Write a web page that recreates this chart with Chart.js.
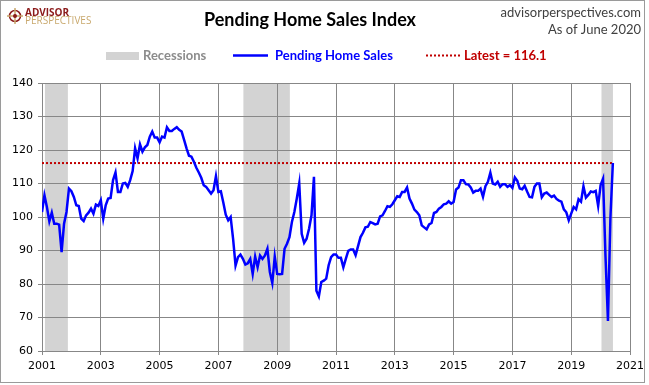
<!DOCTYPE html>
<html>
<head>
<meta charset="utf-8">
<title>Pending Home Sales Index</title>
<script src="https://cdn.jsdelivr.net/npm/chart.js@4.4.0/dist/chart.umd.min.js"></script>
<style>
  html, body { margin: 0; padding: 0; background: #fff; }
  canvas { display: block; }
</style>
</head>
<body>
<canvas id="chart" width="649" height="385"></canvas>
<script>
// monthly index values, Jan 2001 .. Jun 2020
const startYear = 2001;
const pendingHomeSales = [
  101.5, 106.5, 103, 98.7, 101.3, 98, 98, 97.7, 89.5, 98, 101.5, 108.5,          // 2001
  107.7, 106, 103.5, 103.3, 99.5, 98.8, 100.5, 101.3, 102.5, 101, 103.7, 103.3,  // 2002
  105, 99.5, 103.5, 105.5, 105.7, 111, 113.3, 107.5, 107.5, 110, 110.2, 109,     // 2003
  111, 113.7, 120.5, 117.5, 121.7, 119.5, 120.8, 121.5, 124, 125.5, 123.7, 123.7,// 2004
  122.3, 124, 123.7, 126.8, 125.7, 125.7, 126.3, 126.8, 126, 125.5, 123, 120.5,  // 2005
  118.3, 118, 116.5, 114.7, 113.3, 111.7, 109.5, 109, 108, 107, 108, 112.2,      // 2006
  107.5, 107.7, 104.3, 100.7, 99, 100, 93.5, 85.5, 88, 88.8, 87.5, 85.8,         // 2007
  86.2, 87.5, 83, 88.2, 85, 88.5, 87.5, 88.5, 90.5, 83.6, 80.3, 88.2,            // 2008
  83, 82.9, 83, 90.5, 92, 94, 98.5, 101.5, 105.5, 110, 95, 92.3,                 // 2009
  93.5, 96.5, 100.5, 112, 78, 76.3, 80.6, 81, 81.6, 85.6, 88, 88.8,              // 2010
  88.8, 87.8, 87.8, 85, 87.5, 89.9, 90.3, 90.3, 88.6, 91.3, 94, 95.3,            // 2011
  96.9, 97.1, 98.5, 98.2, 97.8, 98, 100.2, 100.5, 101.8, 103.2, 103, 103.8,      // 2012
  105, 106.2, 106, 107.5, 107.5, 108.8, 105.5, 104, 102.2, 101.5, 100.5, 97.5,   // 2013
  96.9, 96.3, 97.8, 98.2, 101.2, 101.5, 102.5, 103, 103.8, 104, 104.7, 104,      // 2014
  104.5, 108.2, 108.8, 111, 111, 109.8, 109.7, 108.8, 107.3, 107.8, 107.8, 108.5,// 2015
  106, 109.2, 110.5, 113.2, 110, 109.7, 110.5, 109, 109.8, 109.8, 109, 109.5,    // 2016
  108.7, 111.8, 110.8, 108.5, 108.3, 109.3, 107.6, 106, 105.9, 109, 110, 110,    // 2017
  105.9, 107, 107.3, 106.6, 106, 106.4, 105.4, 104.9, 104.6, 102.3, 101.4, 99,   // 2018
  101, 103, 102.3, 105.3, 104.6, 109.2, 105.8, 106.6, 107.6, 107.4, 107.8, 103.3,// 2019
  109.5, 111.4, 88.2, 69, 99.6, 116.1                                            // 2020
];
const latestValue = 116.1;
const recessions = [[2001.1, 2001.88], [2007.85, 2009.43], [2020.03, 2020.42]];
const yearTicks = [2001, 2003, 2005, 2007, 2009, 2011, 2013, 2015, 2017, 2019, 2021];

const points = pendingHomeSales.map((v, i) => ({ x: startYear + i / 12, y: v }));
const lastX = points[points.length - 1].x;

const gridGray = '#878787';
const tickFont = { family: 'DejaVu Sans', size: 11 };

// grey recession columns, under the grid
const bandsPlugin = {
  id: 'recessionBands',
  beforeDraw(chart) {
    const { ctx, chartArea, scales: { x } } = chart;
    ctx.save();
    ctx.fillStyle = '#d3d3d3';
    recessions.forEach(([a, b]) => {
      const x0 = x.getPixelForValue(a);
      const x1 = x.getPixelForValue(b);
      ctx.fillRect(x0, chartArea.top, x1 - x0, chartArea.bottom - chartArea.top);
    });
    ctx.restore();
  }
};

// title, logo, source text, legend and frame
const headerPlugin = {
  id: 'header',
  afterDraw(chart) {
    const ctx = chart.ctx;
    ctx.save();

    // frame
    ctx.strokeStyle = '#9a9a9a';
    ctx.lineWidth = 1;
    ctx.strokeRect(0.5, 0.5, 644, 382);

    // logo
    ctx.strokeStyle = '#8b1a1a';
    ctx.lineWidth = 1.5;
    ctx.beginPath();
    ctx.arc(15, 16, 5.5, 0, Math.PI * 2);
    ctx.stroke();
    ctx.strokeStyle = '#c9a96e';
    ctx.lineWidth = 1.5;
    ctx.beginPath();
    ctx.moveTo(15, 8); ctx.lineTo(15, 24);
    ctx.moveTo(7, 16); ctx.lineTo(23, 16);
    ctx.stroke();
    ctx.fillStyle = '#8b1a1a';
    ctx.beginPath();
    ctx.arc(15, 16, 2, 0, Math.PI * 2);
    ctx.fill();

    ctx.textBaseline = 'alphabetic';
    ctx.textAlign = 'left';
    ctx.font = 'bold 10px "Open Sans"';
    ctx.fillStyle = '#8b1a1a';
    ctx.fillText('ADVISOR', 25, 15.5, 47);
    ctx.font = '10px "Open Sans"';
    ctx.fillStyle = '#c9a96e';
    ctx.fillText('PERSPECTIVES', 25, 24, 71);

    // title
    ctx.textBaseline = 'middle';
    ctx.textAlign = 'center';
    ctx.fillStyle = '#000';
    ctx.font = 'bold 18px Lato';
    ctx.fillText('Pending Home Sales Index', 310, 20);

    // source
    ctx.textAlign = 'right';
    ctx.fillStyle = '#404040';
    ctx.font = '13px Lato';
    ctx.fillText('advisorperspectives.com', 641, 13);
    ctx.fillText('As of June 2020', 641, 30);

    // legend
    const ly = 55.5;
    ctx.textAlign = 'left';
    ctx.font = 'bold 13px Lato';
    ctx.fillStyle = '#d3d3d3';
    ctx.fillRect(106, 52, 33, 8);
    ctx.fillStyle = '#8c8c8c';
    ctx.fillText('Recessions', 143, ly, 67);

    ctx.strokeStyle = '#0000ff';
    ctx.lineWidth = 2.5;
    ctx.beginPath();
    ctx.moveTo(233, ly); ctx.lineTo(268, ly);
    ctx.stroke();
    ctx.fillStyle = '#0000ff';
    ctx.fillText('Pending Home Sales', 275, ly, 124);

    ctx.strokeStyle = '#c00000';
    ctx.lineWidth = 2;
    ctx.setLineDash([2, 2]);
    ctx.beginPath();
    ctx.moveTo(426, ly); ctx.lineTo(460, ly);
    ctx.stroke();
    ctx.setLineDash([]);
    ctx.fillStyle = '#c00000';
    ctx.fillText('Latest = ' + latestValue, 464, ly, 85);

    ctx.restore();
  }
};

new Chart(document.getElementById('chart'), {
  type: 'line',
  data: {
    datasets: [
      {
        label: 'Pending Home Sales',
        data: points,
        borderColor: '#0000ff',
        backgroundColor: '#0000ff',
        borderWidth: 2.5,
        pointRadius: 0,
        tension: 0,
        order: 0
      },
      {
        label: 'Latest = ' + latestValue,
        data: [{ x: startYear, y: latestValue }, { x: lastX, y: latestValue }],
        borderColor: '#c00000',
        backgroundColor: '#c00000',
        borderWidth: 2,
        borderDash: [2, 2],
        pointRadius: 0,
        tension: 0,
        order: 1
      }
    ]
  },
  options: {
    responsive: false,
    animation: false,
    events: [],
    layout: { padding: { top: 83, right: 17, bottom: 0, left: 0 } },
    plugins: { legend: { display: false }, tooltip: { enabled: false } },
    scales: {
      x: {
        type: 'linear',
        min: 2001,
        max: 2021,
        afterBuildTicks: (scale) => { scale.ticks = yearTicks.map(v => ({ value: v })); },
        afterFit: (scale) => { scale.height = 34; },
        ticks: {
          callback: (v) => String(v),
          color: '#000',
          font: tickFont,
          padding: 5,
          maxRotation: 0,
          autoSkip: false
        },
        grid: { color: gridGray, lineWidth: 1, tickLength: 4 },
        border: { color: gridGray }
      },
      y: {
        min: 60,
        max: 140,
        afterFit: (scale) => { scale.width = 42; },
        ticks: { stepSize: 10, color: '#000', font: tickFont, padding: 5 },
        grid: { color: gridGray, lineWidth: 1, tickLength: 4 },
        border: { color: gridGray }
      }
    }
  },
  plugins: [bandsPlugin, headerPlugin]
});
</script>
</body>
</html>
